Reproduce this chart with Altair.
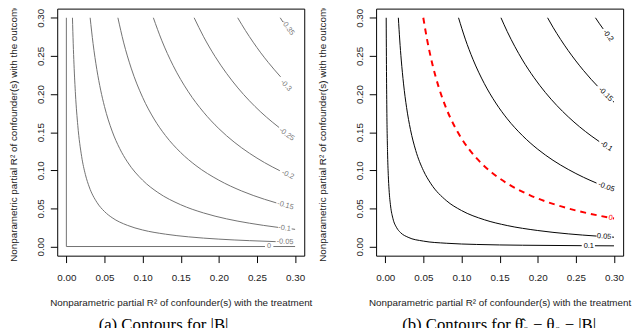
import altair as alt
import pandas as pd

# ---------------- data ----------------
# Left panel: contours of -|B|  (x = R2 with treatment, y = R2 with outcome)
L0_x = [0.0, 0.0, 0.2605]
L0_y = [0.300, 0.0, 0.0]
L0_tail_x = [0.2715, 0.300]
L0_tail_y = [0.0, 0.0]

L05_x = [0.0080, 0.009, 0.010, 0.012, 0.015, 0.020, 0.025, 0.030, 0.040, 0.050, 0.060, 0.080, 0.100, 0.130, 0.160, 0.200, 0.240, 0.2745]
L05_y = [0.300, 0.2659, 0.2391, 0.1988, 0.1586, 0.1183, 0.0942, 0.0781, 0.0580, 0.0459, 0.0378, 0.0278, 0.0217, 0.0162, 0.0127, 0.0097, 0.0077, 0.0064]

L10_x = [0.0312, 0.035, 0.040, 0.045, 0.050, 0.060, 0.070, 0.080, 0.100, 0.120, 0.150, 0.180, 0.210, 0.240, 0.2776]
L10_y = [0.300, 0.2664, 0.2319, 0.2051, 0.1836, 0.1514, 0.1284, 0.1111, 0.0870, 0.0709, 0.0548, 0.0440, 0.0363, 0.0306, 0.0251]
L10_tail_x = [0.2955, 0.300]
L10_tail_y = [0.0231, 0.0225]

L15_x = [0.0676, 0.075, 0.085, 0.100, 0.115, 0.130, 0.150, 0.170, 0.200, 0.230, 0.260, 0.2754]
L15_y = [0.300, 0.2681, 0.2340, 0.1957, 0.1673, 0.1455, 0.1232, 0.1061, 0.0870, 0.0728, 0.0619, 0.0572]

L20_x = [0.1141, 0.125, 0.140, 0.160, 0.180, 0.200, 0.220, 0.240, 0.260, 0.280]
L20_y = [0.300, 0.2706, 0.2374, 0.2029, 0.1761, 0.1546, 0.1370, 0.1224, 0.1100, 0.0994]

L25_x = [0.1676, 0.180, 0.195, 0.210, 0.225, 0.240, 0.255, 0.270, 0.279]
L25_y = [0.300, 0.2751, 0.2493, 0.2272, 0.2080, 0.1912, 0.1764, 0.1633, 0.1561]

L30_x = [0.2247, 0.235, 0.245, 0.255, 0.265, 0.281]
L30_y = [0.300, 0.2831, 0.2680, 0.2540, 0.2412, 0.2225]

L35_x = [0.2805, 0.2840]
L35_y = [0.300, 0.2945]

L_lab_text = ["0", "-0.05", "-0.1", "-0.15", "-0.2", "-0.25", "-0.3", "-0.35"]
L_lab_x = [0.2658, 0.2868, 0.2862, 0.2873, 0.2905, 0.2890, 0.2880, 0.2905]
L_lab_y = [0.0, 0.0062, 0.0238, 0.0539, 0.0940, 0.1470, 0.2110, 0.2870]
L_lab_angle = [0, 2, 7, 15, 25, 36, 47, 55]

# Right panel: contours of theta0 - |B|
R10_x = [0.00124, 0.0015, 0.002, 0.003, 0.004, 0.005, 0.007, 0.010, 0.015, 0.020, 0.030, 0.050, 0.080, 0.120, 0.180, 0.2577]
R10_y = [0.300, 0.2490, 0.1866, 0.1243, 0.0931, 0.0744, 0.0531, 0.0370, 0.0246, 0.0183, 0.0121, 0.0071, 0.0043, 0.0027, 0.0017, 0.0011]
R10_tail_x = [0.275, 0.300]
R10_tail_y = [0.0010, 0.0009]

R05_x = [0.01719, 0.019, 0.021, 0.024, 0.028, 0.033, 0.040, 0.050, 0.060, 0.080, 0.100, 0.130, 0.160, 0.200, 0.240, 0.2771]
R05_y = [0.300, 0.2708, 0.2446, 0.2133, 0.1821, 0.1537, 0.1259, 0.0997, 0.0822, 0.0603, 0.0472, 0.0351, 0.0275, 0.0210, 0.0166, 0.0137]
R05_tail_x = [0.2975, 0.300]
R05_tail_y = [0.0124, 0.0122]

R00_x = [0.0499, 0.055, 0.062, 0.070, 0.080, 0.090, 0.100, 0.120, 0.140, 0.160, 0.190, 0.220, 0.250, 0.2922]
R00_y = [0.300, 0.2707, 0.2384, 0.2094, 0.1812, 0.1593, 0.1418, 0.1155, 0.0968, 0.0827, 0.0672, 0.0559, 0.0473, 0.0382]
R00_tail_x = [0.2985, 0.300]
R00_tail_y = [0.0370, 0.0368]

Rm05_x = [0.0961, 0.105, 0.115, 0.130, 0.145, 0.160, 0.180, 0.200, 0.220, 0.240, 0.260, 0.2771]
Rm05_y = [0.300, 0.2720, 0.2456, 0.2136, 0.1882, 0.1675, 0.1454, 0.1276, 0.1131, 0.1011, 0.0908, 0.0832]

Rm10_x = [0.1518, 0.160, 0.170, 0.180, 0.195, 0.210, 0.225, 0.240, 0.255, 0.270, 0.2806]
Rm10_y = [0.300, 0.2819, 0.2622, 0.2446, 0.2217, 0.2020, 0.1850, 0.1701, 0.1569, 0.1452, 0.1377]

Rm15_x = [0.2129, 0.220, 0.230, 0.240, 0.250, 0.260, 0.270, 0.2784]
Rm15_y = [0.300, 0.2876, 0.2716, 0.2569, 0.2434, 0.2309, 0.2193, 0.2103]
Rm15_tail_x = [0.2985, 0.300]
Rm15_tail_y = [0.1907, 0.1893]

Rm20_x = [0.2757, 0.2805, 0.2858]
Rm20_y = [0.300, 0.2929, 0.2854]

R_lab_text = ["0.1", "0.05", "0", "-0.05", "-0.1", "-0.15", "-0.2"]
R_lab_x = [0.2670, 0.2871, 0.2956, 0.2900, 0.2900, 0.2890, 0.2922]
R_lab_y = [0.0011, 0.0130, 0.0375, 0.0781, 0.1315, 0.1996, 0.2766]
R_lab_angle = [0, 4, 10, 21, 33, 44, 53]
R_lab_color = ["black", "black", "red", "black", "black", "black", "black"]

TICKS = [0.0, 0.05, 0.10, 0.15, 0.20, 0.25, 0.30]
X_TITLE = "Nonparametric partial R\u00b2 of confounder(s) with the treatment"
Y_TITLE = "Nonparametric partial R\u00b2 of confounder(s) with the outcome"
CAP_A = "(a) Contours for |B|"
CAP_B = "(b) Contours for \u03b8\u0302\u2080 \u2212 \u03b8\u2080 \u2212 |B|"


def frame(segments):
    rows = []
    for name, xs, ys in segments:
        for i, (x, y) in enumerate(zip(xs, ys)):
            rows.append({"x": x, "y": y, "seg": name, "i": i})
    return pd.DataFrame(rows)


left_curves = frame([
    ("l05", L05_x, L05_y), ("l10", L10_x, L10_y), ("l10t", L10_tail_x, L10_tail_y),
    ("l15", L15_x, L15_y), ("l20", L20_x, L20_y), ("l25", L25_x, L25_y),
    ("l30", L30_x, L30_y), ("l35", L35_x, L35_y),
])
left_straight = frame([("l0", L0_x, L0_y), ("l0t", L0_tail_x, L0_tail_y)])
left_labels = pd.DataFrame({"x": L_lab_x, "y": L_lab_y, "a": L_lab_angle, "t": L_lab_text})

right_curves = frame([
    ("r10", R10_x, R10_y), ("r10t", R10_tail_x, R10_tail_y),
    ("r05", R05_x, R05_y), ("r05t", R05_tail_x, R05_tail_y),
    ("rm05", Rm05_x, Rm05_y), ("rm10", Rm10_x, Rm10_y),
    ("rm15", Rm15_x, Rm15_y), ("rm15t", Rm15_tail_x, Rm15_tail_y),
    ("rm20", Rm20_x, Rm20_y),
])
right_red = frame([("r00", R00_x, R00_y), ("r00t", R00_tail_x, R00_tail_y)])
right_labels = pd.DataFrame({"x": R_lab_x, "y": R_lab_y, "a": R_lab_angle, "t": R_lab_text, "c": R_lab_color})

DOM = [-0.012, 0.312]
W, H = 251, 251

xaxis = alt.Axis(values=TICKS, format=".2f", title=X_TITLE, grid=False, domain=False,
                 tickSize=7, tickColor="black", labelPadding=10, titlePadding=16,
                 labelFlush=False, labelOverlap=False)


def yaxis(title_pad):
    return alt.Axis(values=TICKS, format=".2f", title=Y_TITLE, grid=False, domain=False,
                    tickSize=7, tickColor="black", labelAngle=270, labelAlign="center",
                    labelBaseline="bottom", labelPadding=5, titlePadding=title_pad,
                    labelFlush=False, labelOverlap=False)


def xy(title_pad):
    return dict(
        x=alt.X("x:Q", scale=alt.Scale(domain=DOM, nice=False, zero=False), axis=xaxis),
        y=alt.Y("y:Q", scale=alt.Scale(domain=DOM, nice=False, zero=False), axis=yaxis(title_pad)),
    )


def caption(text, cx):
    return alt.Chart(pd.DataFrame({"t": [text]})).mark_text(
        font="Liberation Serif", fontSize=17, align="center", baseline="alphabetic", color="black"
    ).encode(text="t:N", x=alt.value(cx), y=alt.value(327))


GRAY = "#707070"
LP, RP = 17, 27

left = alt.layer(
    alt.Chart(left_curves).mark_line(interpolate="monotone", color=GRAY, strokeWidth=1).encode(
        detail="seg:N", order="i:Q", **xy(LP)),
    alt.Chart(left_straight).mark_line(interpolate="linear", color=GRAY, strokeWidth=1).encode(
        detail="seg:N", order="i:Q", **xy(LP)),
    alt.Chart(left_labels).mark_text(font="Liberation Sans", fontSize=7.5, color="#7a7a7a",
                                     align="center", baseline="middle").encode(
        text="t:N", angle=alt.Angle("a:Q", scale=None), **xy(LP)),
    caption(CAP_A, 108),
).properties(width=W, height=H)

right = alt.layer(
    alt.Chart(right_curves).mark_line(interpolate="monotone", color="black", strokeWidth=1).encode(
        detail="seg:N", order="i:Q", **xy(RP)),
    alt.Chart(right_red).mark_line(interpolate="monotone", color="#ff0000", strokeWidth=2,
                                   strokeDash=[6, 5]).encode(
        detail="seg:N", order="i:Q", **xy(RP)),
    alt.Chart(right_labels).mark_text(font="Liberation Sans", fontSize=7.5,
                                      align="center", baseline="middle").encode(
        text="t:N", angle=alt.Angle("a:Q", scale=None), color=alt.Color("c:N", scale=None), **xy(RP)),
    caption(CAP_B, 125),
).properties(width=W, height=H)

chart = alt.hconcat(left, right, spacing=73, bounds="flush").properties(
    padding={"left": 0, "top": -9, "right": 0, "bottom": 0}
).configure_view(stroke="black", strokeWidth=1, fill=None).configure_axis(
    labelFont="Liberation Sans", titleFont="Liberation Sans", labelFontSize=10, titleFontSize=10,
    labelColor="#222222", titleColor="#222222", titleFontWeight="normal"
)

chart.save("out.html", embed_options={"renderer": "svg", "actions": False})
